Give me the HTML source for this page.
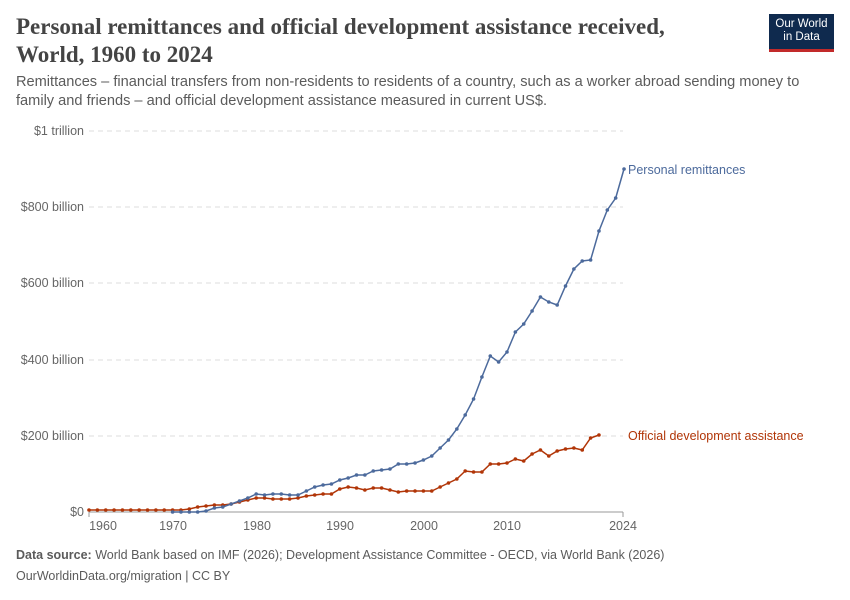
<!DOCTYPE html>
<html><head><meta charset="utf-8"><style>
body{margin:0;background:#fff;font-family:"Liberation Sans",sans-serif;}
.wrap{position:relative;width:850px;height:600px;overflow:hidden}
h1{position:absolute;left:16px;top:13px;margin:0;font-family:"Liberation Serif",serif;font-weight:bold;font-size:23px;line-height:28px;color:#444}
.sub{position:absolute;left:16px;top:73px;width:810px;font-size:14.6px;letter-spacing:0;line-height:19px;color:#5b5b5b}
.logo{position:absolute;left:769px;top:14px;width:65px;height:38px;background:#0f2a4e;border-bottom:3px solid #c22a2a;color:#fff;font-size:11.5px;line-height:13px;text-align:center;padding-top:4px;box-sizing:border-box}
.foot{position:absolute;left:16px;font-size:12.5px;color:#5b5b5b}
</style></head><body><div class="wrap">
<h1>Personal remittances and official development assistance received,<br>World, 1960 to 2024</h1>
<div class="logo">Our World<br>in Data</div>
<div class="sub">Remittances – financial transfers from non-residents to residents of a country, such as a worker abroad sending money to family and friends – and official development assistance measured in current US$.</div>
<svg width="850" height="600" style="position:absolute;left:0;top:0" font-family="Liberation Sans, sans-serif">
<g stroke="#ddd" stroke-dasharray="5,4">
<line x1="89" x2="623" y1="131" y2="131"/><line x1="89" x2="623" y1="207" y2="207"/><line x1="89" x2="623" y1="283" y2="283"/><line x1="89" x2="623" y1="360" y2="360"/><line x1="89" x2="623" y1="436" y2="436"/>
</g>
<line x1="89" x2="623" y1="512" y2="512" stroke="#999"/>
<g font-size="12.5" fill="#666" text-anchor="end">
<text x="84" y="135">$1 trillion</text><text x="84" y="211">$800 billion</text><text x="84" y="287">$600 billion</text><text x="84" y="364">$400 billion</text><text x="84" y="440">$200 billion</text><text x="84" y="516">$0</text>
</g>
<g font-size="12.5" fill="#666" text-anchor="middle">
<text x="103" y="530">1960</text><text x="173" y="530">1970</text><text x="257" y="530">1980</text><text x="340" y="530">1990</text><text x="424" y="530">2000</text><text x="507" y="530">2010</text><text x="623" y="530">2024</text>
</g>
<g stroke="#999"><line x1="89" x2="89" y1="512" y2="517"/><line x1="623" x2="623" y1="512" y2="517"/></g>
<polyline id="oda" fill="none" stroke="#b13507" stroke-width="1.5" points=""/>
<polyline id="rem" fill="none" stroke="#4c6a9c" stroke-width="1.5" points=""/>
<g id="dots"></g>
<text x="628" y="174" font-size="12.5" fill="#4c6a9c">Personal remittances</text>
<text x="628" y="440" font-size="12.5" fill="#b13507">Official development assistance</text>
</svg>
<div class="foot" style="top:548px"><b>Data source:</b> World Bank based on IMF (2026); Development Assistance Committee - OECD, via World Bank (2026)</div>
<div class="foot" style="top:569px">OurWorldinData.org/migration | CC BY</div>
</div>
<script>
var rem=[512,512,512,512,511,508,507,504,501,498,494,495,494,494,495,495,491,487,485,484,480,478,475,475,471,470,469,464,464,463,460,456,448,440,429,415,399,377,356,362,352,332,324,311,297,302,305,286,269,261,260,231,210,198,169];
var oda=[510,510,510,510,510,510,510,510,510,510,510,510,509,507,506,505,505,504,502,500,498,498,499,499,499,498,496,495,494,494,489,487,488,490,488,488,490,492,491,491,491,491,487,483,479,471,472,472,464,464,463,459,461,454,450,456,451,449,448,450,438,435];
function X(y){return 89+8.36*(y-1960);}
var ns="http://www.w3.org/2000/svg",d=document.getElementById('dots');
function draw(arr,start,id,col){var p=[];arr.forEach(function(v,i){var x=X(start+i);p.push(x.toFixed(1)+","+v);var c=document.createElementNS(ns,'circle');c.setAttribute('cx',x);c.setAttribute('cy',v);c.setAttribute('r',1.8);c.setAttribute('fill',col);d.appendChild(c);});document.getElementById(id).setAttribute('points',p.join(' '));}
draw(oda,1960,'oda','#b13507');draw(rem,1970,'rem','#4c6a9c');
</script>
</body></html>
